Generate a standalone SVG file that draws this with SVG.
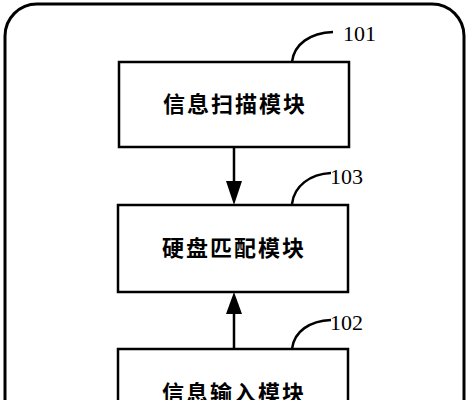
<svg xmlns="http://www.w3.org/2000/svg" width="471" height="400" viewBox="0 0 471 400">
<defs>
<style>
.box{fill:#fff;stroke:#000;stroke-width:2.5}
.lbl{font-family:"Noto Sans CJK SC","Noto Sans",sans-serif;font-size:22px;font-weight:700;text-anchor:middle;letter-spacing:2px}
.num{font-family:"Liberation Serif",serif;font-size:22px}
.lead{fill:none;stroke:#000;stroke-width:2.5}
.conn{stroke:#000;stroke-width:2.5;fill:none}
</style>
</defs>
<rect x="5" y="4" width="459" height="440" rx="32" ry="32" fill="#fff" stroke="#000" stroke-width="3"/>
<g id="connectors">
<line class="conn" x1="234" y1="147" x2="234" y2="181"/>
<path d="M226,181 L242,181 L234,205 Z" fill="#000"/>
<line class="conn" x1="234" y1="349" x2="234" y2="314"/>
<path d="M226,314 L242,314 L234,292 Z" fill="#000"/>
</g>
<g id="n101">
<rect class="box" x="119" y="62" width="230" height="85"/>
<text class="lbl" x="235" y="112">信息扫描模块</text>
<path class="lead" d="M292,62 C294,44 310,33 333,32"/>
<text class="num" x="343" y="41">101</text>
</g>
<g id="n103">
<rect class="box" x="118" y="205" width="230" height="87"/>
<text class="lbl" x="234" y="256">硬盘匹配模块</text>
<path class="lead" d="M292,204 C294,186 310,174 331,173"/>
<text class="num" x="330" y="184">103</text>
</g>
<g id="n102">
<rect class="box" x="118" y="349" width="230" height="90"/>
<text class="lbl" x="234" y="401">信息输入模块</text>
<path class="lead" d="M292,349 C294,331 310,321 331,320"/>
<text class="num" x="330" y="330">102</text>
</g>
</svg>
